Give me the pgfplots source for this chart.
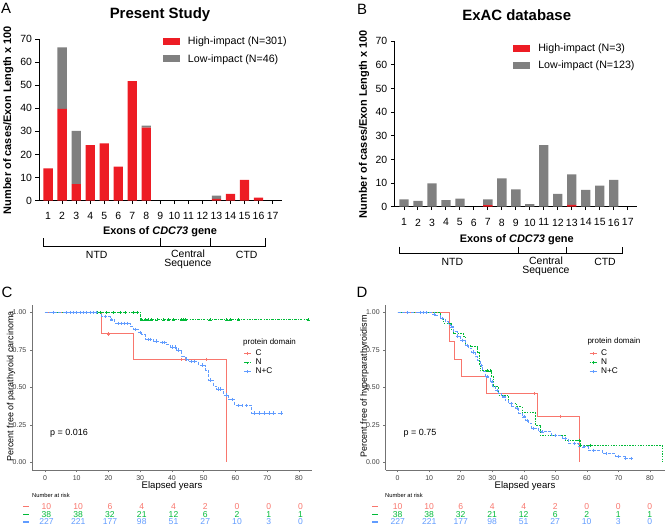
\documentclass[border=0pt]{standalone}
\usepackage{fontspec}
\setmainfont{Liberation Sans}
\usepackage{pgfplots}
\pgfplotsset{compat=1.18}
\definecolor{bred}{HTML}{ED1C24}
\definecolor{bgrey}{HTML}{808080}
\definecolor{kr}{HTML}{F8766D}
\definecolor{kg}{HTML}{00BA38}
\definecolor{kb}{HTML}{619CFF}
\newcommand\fs[1]{\fontsize{#1}{#1}\selectfont}
\pgfplotsset{
 barax/.style={scale only axis, axis x line*=bottom, axis y line*=left,
  axis line style={line width=0.9bp,-}, tick align=outside, major tick length=3.5bp,
  tick style={line width=0.9bp,black}, xtick={1,...,17}, ytick={0,10,...,70},
  ymin=0, ymax=70, ybar stacked, bar width=9.3bp,
  tick label style={font=\fs{10.5}}, /pgf/number format/assume math mode=true,
  legend style={draw=none, fill=none, font=\fs{10.7}, legend cell align=left, row sep=4bp, inner sep=0pt}},
 kmax/.style={scale only axis, width=279.4bp, height=165bp, ymin=-0.05, ymax=1.05,
  axis x line*=bottom, axis y line*=left, axis line style={black!55, line width=0.8bp, -},
  tick align=outside, major tick length=2.5bp, tick style={black!55, line width=0.6bp},
  xtick={0,10,...,80}, ytick={0,0.25,0.5,0.75,1}, yticklabels={0.00,0.25,0.50,0.75,1.00},
  tick label style={font=\fs{7}, text=black!75}, xticklabel style={inner sep=0.5bp, yshift=-2bp},
  /pgf/number format/assume math mode=true,
  legend style={draw=none, fill=none, font=\fs{8.3}, legend cell align=left, row sep=-2.2bp, inner sep=0pt}},
 redleg/.style={legend image code/.code={\fill[bred] (0bp,-3.5bp) rectangle (17bp,3.5bp); \path (23bp,0bp);}},
 greyleg/.style={legend image code/.code={\fill[bgrey] (0bp,-3.5bp) rectangle (17bp,3.5bp); \path (23bp,0bp);}},
 kmleg/.style={legend image code/.code={\draw[#1,line width=0.8bp] (0bp,0bp)--(7bp,0bp); \draw[#1,line width=0.6bp] (3.5bp,-1.6bp)--(3.5bp,1.6bp) (1.9bp,0bp)--(5.1bp,0bp); \path (9bp,0bp);}},
 cens/.style={only marks, mark=+, mark size=1.6bp, mark options={line width=0.5bp,solid}, forget plot}
}
\begin{document}
\begin{tikzpicture}
\useasboundingbox (0,0) rectangle (665bp,526bp);
% ---------- Panel A ----------
\begin{axis}[barax, at={(39bp,325.3bp)}, anchor=south west, width=242.7bp, height=161.7bp,
  xmin=0.35, xmax=17.65, xticklabel style={yshift=-4.5bp},
  legend style={at={(0.51,1.025)}, anchor=north west}]
\addplot[fill=bred, draw=none, redleg] coordinates {(1,14) (2,39.7) (3,7.2) (4,24.1) (5,24.8) (6,14.7) (7,51.8) (8,31.6) (9,0) (10,0) (11,0) (12,0) (13,0.8) (14,2.9) (15,9) (16,1.3) (17,0)};
\addlegendentry{High-impact (N=301)}
\addplot[fill=bgrey, draw=none, greyleg] coordinates {(1,0) (2,26.7) (3,23.0) (4,0) (5,0) (6,0) (7,0) (8,0.9) (9,0) (10,0) (11,0) (12,0) (13,1.4) (14,0) (15,0) (16,0) (17,0)};
\addlegendentry{Low-impact (N=46)}
\end{axis}
\node[font=\fs{15}] at (6bp,518bp) {A};
\node[font=\fs{15}\bfseries] at (160bp,511.5bp) {Present Study};
\node[font=\fs{11}\bfseries, rotate=90] at (8.3bp,406bp) {Number of cases/Exon Length x 100};
\node[font=\fs{11}\bfseries] at (160bp,294.3bp) {Exons of \textit{CDC73} gene};
\draw[line width=0.9bp] (43.3bp,287.7bp) -- (43.3bp,280bp) -- (265.7bp,280bp) -- (265.7bp,287.7bp)
  (160.7bp,280bp) -- (160.7bp,287.7bp) (210bp,280bp) -- (210bp,287.7bp);
\node[font=\fs{10.5}] at (96.7bp,271bp) {NTD};
\node[font=\fs{10.5}, align=center] at (188bp,266.5bp) {Central\\[-1.5bp]Sequence};
\node[font=\fs{10.5}] at (246.7bp,271bp) {CTD};
% ---------- Panel B ----------
\begin{axis}[barax, at={(394.3bp,319.3bp)}, anchor=south west, width=242.4bp, height=165.4bp,
  xmin=0.31, xmax=17.64, xticklabel style={yshift=-5bp},
  legend style={at={(0.49,1.0)}, anchor=north west}]
\addplot[fill=bred, draw=none, redleg] coordinates {(1,0) (2,0) (3,0) (4,0) (5,0) (6,0) (7,0.7) (8,0) (9,0) (10,0) (11,0) (12,0) (13,0.8) (14,0) (15,0) (16,0) (17,0)};
\addlegendentry{High-impact (N=3)}
\addplot[fill=bgrey, draw=none, greyleg] coordinates {(1,3.1) (2,2.5) (3,9.9) (4,2.8) (5,3.4) (6,0) (7,2.4) (8,12.0) (9,7.3) (10,1.1) (11,26.1) (12,5.4) (13,12.9) (14,7.1) (15,8.9) (16,11.3) (17,0)};
\addlegendentry{Low-impact (N=123)}
\end{axis}
\node[font=\fs{15}] at (362bp,517bp) {B};
\node[font=\fs{15}\bfseries] at (516.7bp,510.5bp) {ExAC database};
\node[font=\fs{11}\bfseries, rotate=90] at (364bp,402bp) {Number of cases/Exon Length x 100};
\node[font=\fs{11}\bfseries] at (516.7bp,286bp) {Exons of \textit{CDC73} gene};
\draw[line width=0.9bp] (399.3bp,279.3bp) -- (399.3bp,272.7bp) -- (622.3bp,272.7bp) -- (622.3bp,279.3bp)
  (518.3bp,272.7bp) -- (518.3bp,279.3bp) (566bp,272.7bp) -- (566bp,279.3bp);
\node[font=\fs{10.5}] at (452.3bp,264.3bp) {NTD};
\node[font=\fs{10.5}, align=center] at (546bp,259.8bp) {Central\\[-1.5bp]Sequence};
\node[font=\fs{10.5}] at (605bp,264.3bp) {CTD};
% ---------- Panel C ----------
\begin{axis}[kmax, at={(32.3bp,56bp)}, anchor=south west, xmin=-4, xmax=84,
  legend style={at={(0.756,0.74)}, anchor=north west}]
\addplot[const plot, kr, line width=0.9bp, kmleg=kr] coordinates {(0,1) (17.8,0.857) (27.8,0.688) (57.0,0) (57.0,0)};
\addlegendentry{C}
\addplot[const plot, kg, line width=0.8bp, dash pattern=on 2.5bp off 1.2bp on 0.8bp off 1.2bp, kmleg=kg] coordinates {(0,1) (29.9,0.951) (82.9,0.951)};
\addlegendentry{N}
\addplot[const plot, kb, line width=0.8bp, dash pattern=on 3bp off 1.5bp, kmleg=kb] coordinates {(0,1) (17.8,0.973) (20.5,0.951) (22.0,0.929) (26.8,0.906) (27.8,0.889) (29.4,0.867) (30.4,0.851) (31.5,0.82) (34.1,0.81) (36.2,0.80) (38.3,0.785) (39.4,0.77) (41.5,0.75) (43.0,0.71) (44.1,0.69) (45.1,0.673) (48.3,0.65) (50.4,0.617) (51.4,0.55) (53.0,0.51) (54.1,0.49) (56.1,0.45) (57.7,0.42) (59.8,0.38) (65.1,0.33) (74.5,0.33)};
\addlegendentry{N+C}
\addplot[cens, kr] coordinates {(20,0.857) (43,0.688) (44.1,0.688) (50.9,0.688)};
\addplot[cens, kg] coordinates {(16.3,1) (17.3,1) (19.4,1) (21.5,1) (23.6,1) (25.2,1) (27.8,1) (28.9,1) (30.4,0.951) (31.5,0.951) (32.5,0.951) (33.6,0.951) (35.2,0.951) (37.3,0.951) (38.8,0.951) (40.4,0.951) (43.0,0.951) (43.6,0.951) (44.1,0.951) (52.0,0.951) (57.2,0.951) (58.3,0.951) (60.9,0.951) (82.9,0.951)};
\addplot[cens, kb] coordinates {(2.6,1) (6.8,1) (7.9,1) (8.9,1) (10,1) (11,1) (12,1) (13.1,1) (14.1,1) (15.2,1) (16.2,1) (19,0.973) (21,0.951) (23,0.929) (24,0.929) (25,0.929) (26,0.929) (28.5,0.889) (30,0.867) (32.5,0.82) (33.2,0.82) (35,0.81) (36.8,0.80) (37.5,0.80) (40,0.77) (41,0.77) (42,0.75) (44.5,0.69) (46,0.673) (47,0.673) (49.5,0.65) (52,0.55) (54.5,0.49) (55.2,0.49) (57,0.45) (59,0.42) (61,0.38) (62,0.38) (63.5,0.38) (66,0.33) (67.5,0.33) (69,0.33) (70.5,0.33) (72,0.33) (74.5,0.33)};
\end{axis}
\node[font=\fs{15}] at (7bp,234bp) {C};
\node[font=\fs{9}, rotate=90] at (11bp,139.5bp) {Percent free of parathyroid carcinoma};
\node[font=\fs{9.6}, inner sep=0pt] at (172bp,39.8bp) {Elapsed years};
\node[font=\fs{8}, anchor=west, inner sep=0pt] at (243bp,183.7bp) {protein domain};
\node[font=\fs{9}] at (69bp,92.7bp) {p = 0.016};
% ---------- Panel D ----------
\begin{axis}[kmax, at={(385.7bp,56bp)}, anchor=south west, xmin=-3.8, xmax=84.8,
  legend style={at={(0.728,0.74)}, anchor=north west}]
\addplot[const plot, kr, line width=0.9bp, kmleg=kr] coordinates {(0,1) (16.3,0.804) (18.0,0.689) (20.1,0.575) (28.3,0.46) (44.3,0.309) (57.6,0) (57.6,0)};
\addlegendentry{C}
\addplot[const plot, kg, line width=0.8bp, dash pattern=on 1.5bp off 1.2bp, kmleg=kg] coordinates {(0,1) (13.4,0.96) (14.5,0.93) (17.1,0.88) (17.7,0.86) (20.8,0.842) (21.4,0.782) (23.0,0.771) (25.4,0.737) (25.9,0.649) (26.1,0.611) (29.8,0.571) (30.4,0.504) (31.9,0.449) (35.1,0.393) (37.8,0.371) (39.4,0.331) (43.6,0.249) (45.2,0.182) (53.1,0.149) (57.9,0.115) (83.8,0) (83.8,0)};
\addlegendentry{N}
\addplot[const plot, kb, line width=0.8bp, dash pattern=on 3bp off 1.5bp, kmleg=kb] coordinates {(0,1) (10.8,0.99) (12.0,0.982) (13.5,0.96) (15.0,0.938) (16.0,0.92) (16.6,0.904) (17.7,0.871) (18.8,0.84) (19.8,0.815) (21.4,0.782) (22.5,0.76) (23.5,0.737) (24.5,0.704) (25.3,0.68) (26.1,0.649) (27.0,0.61) (27.7,0.571) (29.3,0.538) (30.1,0.51) (30.9,0.482) (32.0,0.46) (33.0,0.438) (34.0,0.415) (35.1,0.393) (36.2,0.375) (37.2,0.36) (38.3,0.33) (39.4,0.304) (40.4,0.28) (41.5,0.26) (42.5,0.226) (44.6,0.204) (48.9,0.182) (52.1,0.16) (54.2,0.126) (57.3,0.104) (60.5,0.082) (64.8,0.06) (69.0,0.042) (72.2,0.026) (74.8,0.026)};
\addlegendentry{N+C}
\addplot[cens, kr] coordinates {(43.3,0.46) (51.5,0.309)};
\addplot[cens, kg] coordinates {(28.5,0.611) (29.2,0.611) (57.5,0.149) (58,0.115) (61,0.115)};
\addplot[cens, kb] coordinates {(3,1) (7,1) (8,1) (9,1) (11.5,0.99) (14,0.96) (17,0.904) (19,0.84) (20.5,0.815) (22,0.782) (24,0.737) (26.5,0.649) (28.5,0.571) (30,0.538) (31.5,0.482) (33.5,0.438) (36,0.393) (38,0.36) (40,0.304) (41,0.28) (43,0.226) (46,0.204) (50,0.182) (53,0.16) (56,0.126) (59,0.104) (62,0.082) (66,0.06) (70,0.042) (72.2,0.026) (74,0.026)};
\end{axis}
\node[font=\fs{15}] at (362bp,234bp) {D};
\node[font=\fs{9}, rotate=90] at (364.5bp,139.5bp) {Percent free of hyperparathyroidism};
\node[font=\fs{9.6}, inner sep=0pt] at (525bp,39.8bp) {Elapsed years};
\node[font=\fs{8}, anchor=west, inner sep=0pt] at (587.3bp,184.4bp) {protein domain};
\node[font=\fs{9}] at (420bp,92.7bp) {p = 0.75};
% ---------- Number at risk ----------
\node[font=\fs{5.8}, anchor=west, inner sep=0pt] at (32bp,31bp) {Number at risk};
\node[font=\fs{5.8}, anchor=west, inner sep=0pt] at (385bp,31bp) {Number at risk};
\foreach \ox/\dx/\mx in {46.5/31.75/26, 397.7/31.5/375}{
 \foreach \col/\yy/\vals in {kr/19.3/{10,10,6,4,4,2,0,0,0}, kg/11.7/{38,38,32,21,12,6,2,1,1}, kb/4.1/{227,221,177,98,51,27,10,3,0}}{
  \draw[\col, line width=1.3bp] (\mx bp-3bp,\yy bp) -- (\mx bp+3bp,\yy bp);
  \foreach \v [count=\i from 0] in \vals {
   \node[font=\fs{8.6}, text=\col, inner sep=0pt] at (\ox bp+\i*\dx bp,\yy bp) {\v};
  }
 }
}
\end{tikzpicture}
\end{document}
